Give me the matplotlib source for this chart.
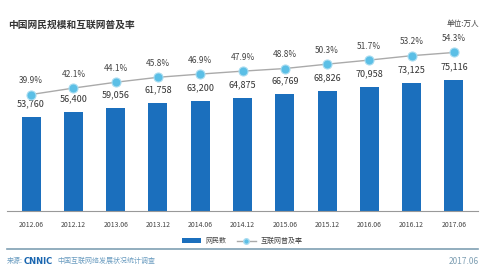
import matplotlib
matplotlib.use("Agg")
import matplotlib.pyplot as plt
from matplotlib.patches import Patch
from matplotlib.lines import Line2D

plt.rcParams['font.family'] = ['Noto Sans CJK SC', 'DejaVu Sans']

categories = ["2012.06", "2012.12", "2013.06", "2013.12", "2014.06", "2014.12",
              "2015.06", "2015.12", "2016.06", "2016.12", "2017.06"]
netizens = [53760, 56400, 59056, 61758, 63200, 64875, 66769, 68826, 70958, 73125, 75116]
penetration = [39.9, 42.1, 44.1, 45.8, 46.9, 47.9, 48.8, 50.3, 51.7, 53.2, 54.3]

W, H = 499, 277
fig = plt.figure(figsize=(W / 100, H / 100), dpi=100)
fig.patch.set_facecolor("white")

ax_left, ax_right, ax_top, ax_bottom = 7, 478, 30, 211
ax = fig.add_axes([ax_left / W, 1 - ax_bottom / H, (ax_right - ax_left) / W, (ax_bottom - ax_top) / H])
ax2 = ax.twinx()

x = list(range(len(categories)))
bar_color = "#1b6fbd"
ax.bar(x, netizens, width=0.45, color=bar_color, zorder=2)
ax.set_ylim(0, 103600)
ax.set_xlim(-0.57, len(categories) - 1 + 0.57)

for xi, v in zip(x, netizens):
    ax.annotate(f"{v:,}", (xi, v), xytext=(0, 9.5), textcoords="offset points",
                ha="center", va="center", fontsize=6.5, color="#333333")

ax2.plot(x, penetration, color="#aaaaaa", lw=1.0, marker="o", markersize=6.5,
         markerfacecolor="#5bbfe6", markeredgecolor="#a9dcf0", markeredgewidth=0.8, zorder=3)
ax2.set_ylim(0, 62.0)
for xi, p in zip(x, penetration):
    ax2.annotate(f"{p}%", (xi, p), xytext=(0, 10), textcoords="offset points",
                 ha="center", va="center", fontsize=6, color="#444444")

for a in (ax, ax2):
    for s in a.spines.values():
        s.set_visible(False)
    a.set_yticks([])
ax.spines['bottom'].set_visible(True)
ax.spines['bottom'].set_color("#999999")
ax.spines['bottom'].set_linewidth(0.8)
ax.set_xticks(x)
ax.set_xticklabels(categories, fontsize=5, color="#444444")
ax.tick_params(axis='x', length=0, pad=7)

fig.text(8 / W, 1 - 25 / H, "中国网民规模和互联网普及率", fontsize=7, fontweight="bold",
         color="#333333", ha="left", va="center")
fig.text(479 / W, 1 - 24 / H, "单位:万人", fontsize=5.5, color="#444444", ha="right", va="center")

handles = [Patch(facecolor=bar_color, edgecolor="none"),
           Line2D([0], [0], color="#aaaaaa", lw=1.0, marker="o", markersize=4,
                  markerfacecolor="#5bbfe6", markeredgecolor="#a9dcf0")]
fig.legend(handles, ["网民数", "互联网普及率"], loc="center", bbox_to_anchor=(242 / W, 1 - 241 / H),
           ncol=2, frameon=False, fontsize=5, handlelength=2.8, handleheight=0.6,
           columnspacing=1.5, handletextpad=0.6, labelcolor="#444444")

fig.add_artist(Line2D([7 / W, 478 / W], [1 - 248.5 / H, 1 - 248.5 / H], color="#7f9fb3", lw=1.2))

fig.text(7 / W, 1 - 261 / H, "来源:", fontsize=5, color="#6a9cc0", ha="left", va="center")
fig.text(24 / W, 1 - 261 / H, "CNNIC", fontsize=6, fontweight="bold", color="#1a66b0",
         ha="left", va="center", family="DejaVu Sans")
fig.text(57 / W, 1 - 261 / H, "中国互联网络发展状况统计调查", fontsize=5, color="#6a9cc0",
         ha="left", va="center")
fig.text(479 / W, 1 - 261 / H, "2017.06", fontsize=6, color="#7f9fb3", ha="right", va="center")

fig.savefig("out.png", dpi=100, facecolor="white")
